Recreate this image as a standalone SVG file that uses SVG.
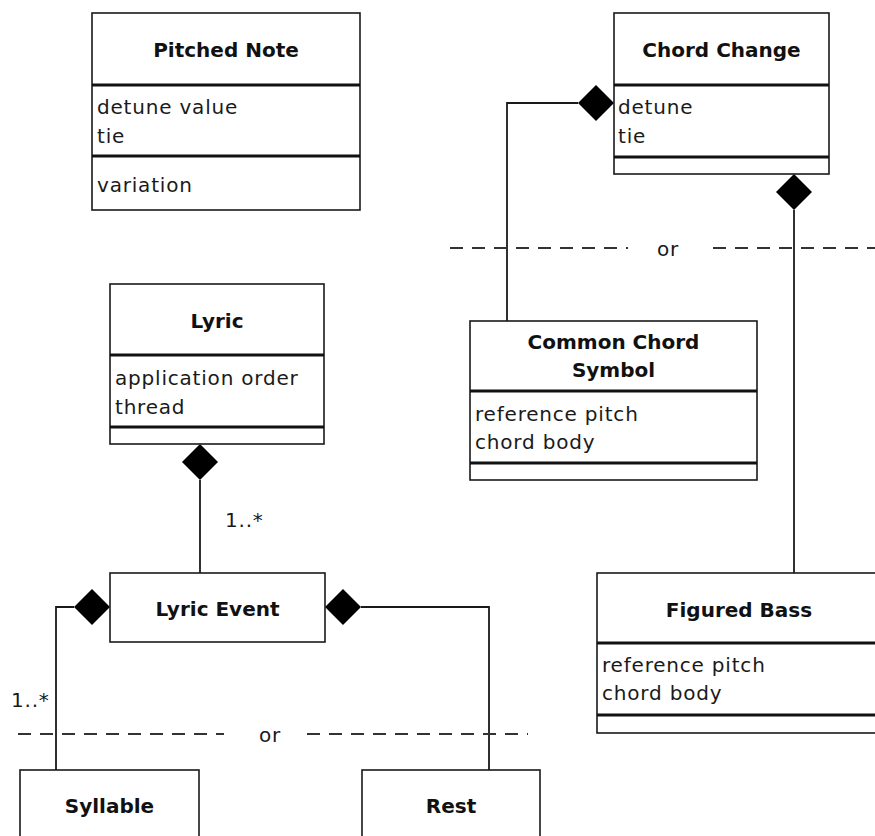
<svg xmlns="http://www.w3.org/2000/svg" width="875" height="836" viewBox="0 0 875 836">
<style>
.box{fill:#fff;stroke:#1a1a1a;stroke-width:1.6}
.sep{stroke:#111;stroke-width:3.2}
.title{font-family:"DejaVu Sans",sans-serif;font-weight:bold;font-size:20px;fill:#111;text-anchor:middle}
.attr{font-family:"DejaVu Sans",sans-serif;font-size:20px;fill:#1a1a1a;letter-spacing:0.8px}
.line{fill:none;stroke:#1a1a1a;stroke-width:1.8}
.dash{fill:none;stroke:#333;stroke-width:2;stroke-dasharray:13 9}
.dia{fill:#000}
</style>
<rect width="875" height="836" fill="#fff"/>

<g id="connectors">
  <polyline class="line" points="578,103 507,103 507,321"/>
  <polygon class="dia" points="614,103 596,85 578,103 596,121"/>
  <line class="line" x1="794" y1="210" x2="794" y2="573"/>
  <polygon class="dia" points="794,174 812,192 794,210 776,192"/>
  <line class="line" x1="200" y1="480" x2="200" y2="573"/>
  <polygon class="dia" points="200,444 218,462 200,480 182,462"/>
  <polyline class="line" points="74,607 56,607 56,770"/>
  <polygon class="dia" points="110,607 92,589 74,607 92,625"/>
  <polyline class="line" points="361,607 489,607 489,770"/>
  <polygon class="dia" points="325,607 343,589 361,607 343,625"/>
  <text class="attr" x="225" y="527">1..*</text>
  <text class="attr" x="11" y="707">1..*</text>
  <line class="dash" x1="450" y1="248" x2="628" y2="248"/>
  <text class="attr" x="657" y="256">or</text>
  <line class="dash" x1="713" y1="248" x2="875" y2="248"/>
  <line class="dash" x1="18" y1="734" x2="224" y2="734"/>
  <text class="attr" x="259" y="742">or</text>
  <line class="dash" x1="307" y1="734" x2="528" y2="734"/>
</g>

<g id="pitched-note">
  <rect class="box" x="92" y="13" width="268" height="197"/>
  <line class="sep" x1="92" y1="85" x2="360" y2="85"/>
  <line class="sep" x1="92" y1="156" x2="360" y2="156"/>
  <text class="title" x="226" y="57">Pitched Note</text>
  <text class="attr" x="97" y="114">detune value</text>
  <text class="attr" x="97" y="143">tie</text>
  <text class="attr" x="97" y="192">variation</text>
</g>

<g id="chord-change">
  <rect class="box" x="614" y="13" width="215" height="161"/>
  <line class="sep" x1="614" y1="85" x2="829" y2="85"/>
  <line class="sep" x1="614" y1="157" x2="829" y2="157"/>
  <text class="title" x="721.5" y="57">Chord Change</text>
  <text class="attr" x="618" y="114">detune</text>
  <text class="attr" x="618" y="143">tie</text>
</g>

<g id="lyric">
  <rect class="box" x="110" y="284" width="214" height="160"/>
  <line class="sep" x1="110" y1="355" x2="324" y2="355"/>
  <line class="sep" x1="110" y1="427" x2="324" y2="427"/>
  <text class="title" x="217" y="328">Lyric</text>
  <text class="attr" x="115" y="385">application order</text>
  <text class="attr" x="115" y="414">thread</text>
</g>

<g id="common-chord-symbol">
  <rect class="box" x="470" y="321" width="287" height="159"/>
  <line class="sep" x1="470" y1="391" x2="757" y2="391"/>
  <line class="sep" x1="470" y1="463" x2="757" y2="463"/>
  <text class="title" x="613.5" y="349">Common Chord</text>
  <text class="title" x="613.5" y="377">Symbol</text>
  <text class="attr" x="475" y="421">reference pitch</text>
  <text class="attr" x="475" y="449">chord body</text>
</g>

<g id="lyric-event">
  <rect class="box" x="110" y="573" width="215" height="69"/>
  <text class="title" x="217.5" y="616">Lyric Event</text>
</g>

<g id="figured-bass">
  <rect class="box" x="597" y="573" width="290" height="160"/>
  <line class="sep" x1="597" y1="643" x2="887" y2="643"/>
  <line class="sep" x1="597" y1="715" x2="887" y2="715"/>
  <text class="title" x="739" y="617">Figured Bass</text>
  <text class="attr" x="602" y="672">reference pitch</text>
  <text class="attr" x="602" y="700">chord body</text>
</g>

<g id="syllable">
  <rect class="box" x="20" y="770" width="179" height="100"/>
  <text class="title" x="109.5" y="813">Syllable</text>
</g>

<g id="rest">
  <rect class="box" x="362" y="770" width="178" height="100"/>
  <text class="title" x="451" y="813">Rest</text>
</g>
</svg>
